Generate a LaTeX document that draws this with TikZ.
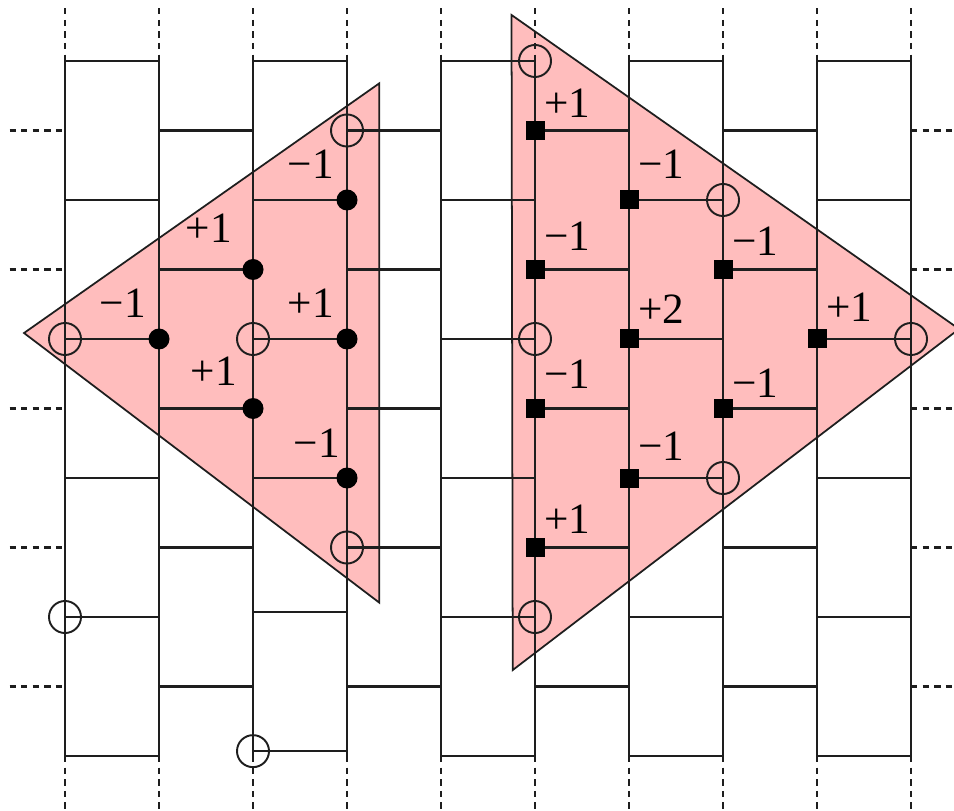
\documentclass[tikz,border=0pt]{standalone}
\usepackage{fontspec}
\setmainfont{Liberation Serif}
\usepackage{tikz}
\usetikzlibrary{positioning}
\definecolor{brkpink}       {RGB}{255, 189, 189}
\definecolor{brkdark}       {RGB}{ 30,  30,  30}
\tikzset{
	hole/.style={draw=brkdark, circle, minimum size=3.2mm, inner sep=0pt, line width=0.55pt},
	bead/.style={fill=black, circle, minimum size=2.1mm, inner sep=0pt},
	blk/.style={fill=black, rectangle, minimum size=1.9mm, inner sep=0pt},
	num/.style={inner sep=0pt, text height=8.1pt, text depth=0pt, font=\fontsize{12.3}{14}\selectfont},
	brkdash/.style={dash pattern=on 1.8pt off 1.5pt}
}
\begin{document}
\begin{tikzpicture}[x=0.94cm, y=-0.695cm, line width=0.58pt]
				\clip (-0.6915,-0.8777) rectangle (9.4574,10.791);
				% pink regions
				\filldraw[fill=brkpink, draw=brkdark, line width=0.5pt] (-0.436,3.914)--(3.344,0.321)--(3.344,7.794)--cycle;
				\filldraw[fill=brkpink, draw=brkdark, line width=0.5pt] (4.75,-0.662)--(9.511,3.856)--(4.763,8.763)--cycle;
				% brick wall
				\foreach \i in {0,...,9}{
					\draw[brkdark] (\i,0)--(\i,10);
					\draw[brkdark,brkdash] (\i,-0.76)--(\i,0);
					\draw[brkdark,brkdash] (\i,10)--(\i,10.76);
				}
				\foreach \j in {0,2,...,10}{
					\foreach \i in {0,4,6,8}{\draw[brkdark] (\i,\j)--++(1,0);}
				}
				\foreach \j in {0,2,4,6}{\draw[brkdark] (2,\j)--(3,\j);}
				\draw[brkdark] (2,7.93)--(3,7.93);
				\draw[brkdark] (2,9.93)--(3,9.93);
				\foreach \j in {1,3,...,9}{
					\foreach \i in {1,3,5,7}{\draw[brkdark] (\i,\j)--++(1,0);}
					\draw[brkdark,brkdash] (-0.59,\j)--(0,\j);
					\draw[brkdark,brkdash] (9,\j)--(9.6,\j);
				}
				% markers
				\foreach \n/\i/\j in {h1/3/1, h2/0/4, h3/2/4, h4/3/7, h5/5/0, h6/5/4, h7/7/2,
					h8/9/4, h9/7/6, h10/5/8, h11/0/8, h12/2/9.93}{\node[hole] (\n) at (\i,\j) {};}
				\foreach \n/\i/\j in {b1/3/2, b2/2/3, b3/1/4, b4/3/4, b5/2/5, b6/3/6}{\node[bead] (\n) at (\i,\j) {};}
				\foreach \n/\i/\j in {s1/5/1, s2/6/2, s3/5/3, s4/7/3, s5/6/4, s6/8/4, s7/5/5,
					s8/7/5, s9/6/6, s10/5/7}{\node[blk] (\n) at (\i,\j) {};}
				% values
				\foreach \n/\v/\a/\b in {b1/−1/1.2/0.4, b2/+1/1.8/1.2, b3/−1/1.2/0.4, b4/+1/1.2/0.4,
					b5/+1/1.4/0.7, b6/−1/1.1/-0.2}{\node[num, above left=\a mm and \b mm of \n] (t\n) {\v};}
				\foreach \n/\v/\a in {s1/+1/0.15, s2/−1/0.95, s3/−1/0.75, s4/−1/0.25, s5/+2/0.35,
					s6/+1/0.55, s7/−1/0.85, s8/−1/-0.05, s9/−1/0.55, s10/+1/0.25}{\node[num, above right=\a mm and -0.2mm of \n] (t\n) {\v};}
			\end{tikzpicture}
\end{document}
